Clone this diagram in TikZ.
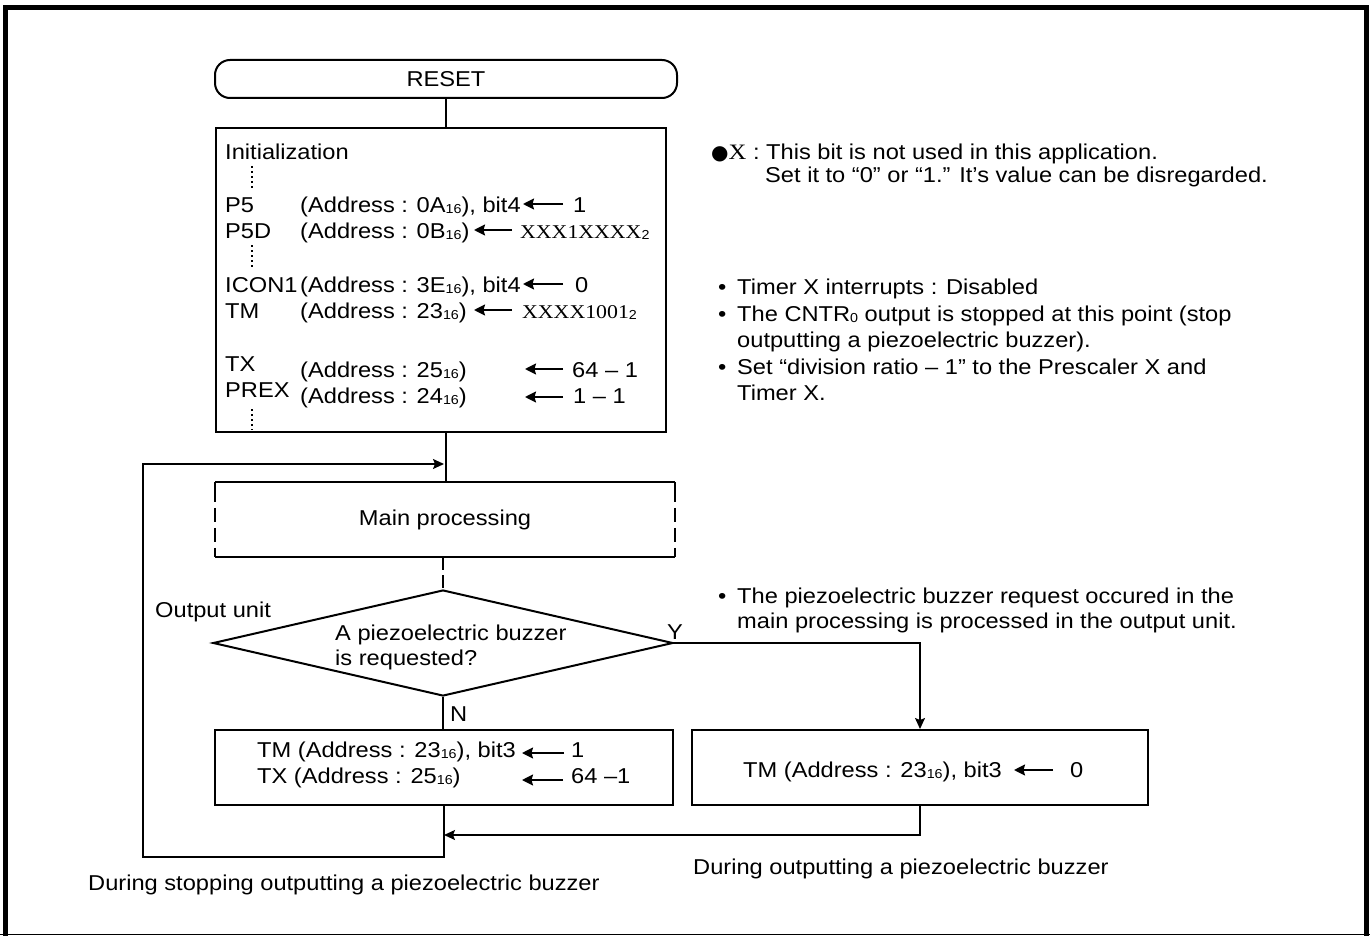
\documentclass[tikz,border=0pt]{standalone}
\usepackage{fontspec}
\setmainfont{Liberation Sans}[FakeStretch=1.1]
\newfontfamily\serifx{Liberation Serif}[FakeStretch=1.12]
\newfontfamily\symf{DejaVu Sans}
\usetikzlibrary{arrows.meta,shapes.geometric}
\newcommand{\hx}[1]{\raisebox{-1.5pt}{\fontsize{13}{13}\selectfont #1}}
\newcommand{\sx}[1]{{\serifx\fontsize{19.5}{19.5}\selectfont #1}}
\newcommand{\fs}{\fontsize{21.5}{26}\selectfont}
\begin{document}
\begin{tikzpicture}[x=1pt,y=-1pt,
  every node/.style={font=\fs},
  box/.style={draw,line width=2pt,inner sep=0pt},
  conn/.style={line width=1.4pt},
  arr/.style={conn,-{Stealth[length=11pt,width=10pt,inset=2pt]}},
  tarr/.style={line width=1.8pt,-{Stealth[length=11pt,width=11pt,inset=1.5pt]}},
  txt/.style={anchor=base west,inner sep=0pt},
  vdots/.style={line width=2.2pt,dash pattern=on 2pt off 3pt}]
\useasboundingbox (0,0) rectangle (1370,936);
% frame
\draw[line width=5pt] (5.5,936) -- (5.5,7.5) -- (1366.5,7.5) -- (1366.5,936);
\draw[line width=1.5pt] (0,934.5) -- (1370,934.5);

% RESET
\node[box,rounded corners=15pt,minimum width=462pt,minimum height=38pt] (reset) at (446,79) {RESET};
% Initialization box
\node[box,minimum width=450pt,minimum height=304pt] (init) at (441,280) {};
\draw[conn] (reset.south) -- (reset.south |- init.north);

\node[txt] (ini) at (225,160) {Initialization};
\draw[vdots] (252,166) -- (252,189);
\node[txt] (p5) at (225,212) {P5};
\node[txt] (p5a) at (300,212) {(Address : 0A\hx{16}), bit4};
\coordinate (p5s) at (563,204); \coordinate (p5e) at (523,204);
\draw[tarr] (p5s) -- (p5e);
\node[txt] (p5v) at (573,212) {1};
\node[txt] (p5d) at (225,238) {P5D};
\node[txt] (p5da) at (300,238) {(Address : 0B\hx{16})};
\coordinate (p5ds) at (512,230); \coordinate (p5de) at (474,230);
\draw[tarr] (p5ds) -- (p5de);
\node[txt] (p5dv) at (520,238) {\sx{XXX1XXXX}\hx{2}};
\draw[vdots] (252,245) -- (252,268);
\node[txt] (ic) at (225,292) {ICON1};
\node[txt] (ica) at (300,292) {(Address : 3E\hx{16}), bit4};
\coordinate (ics) at (563,284); \coordinate (ice) at (523,284);
\draw[tarr] (ics) -- (ice);
\node[txt] (icv) at (575,292) {0};
\node[txt] (tm) at (225,318) {TM};
\node[txt] (tma) at (300,318) {(Address : 23\hx{16})};
\coordinate (tms) at (512,310); \coordinate (tme) at (474,310);
\draw[tarr] (tms) -- (tme);
\node[txt] (tmv) at (522,318) {\sx{XXXX1001}\hx{2}};
\node[txt] (tx) at (225,371) {TX};
\node[txt] (txa) at (300,377) {(Address : 25\hx{16})};
\coordinate (txs) at (563,369); \coordinate (txe) at (525,369);
\draw[tarr] (txs) -- (txe);
\node[txt] (txv) at (572,377) {64 -- 1};
\node[txt] (px) at (225,397) {PREX};
\node[txt] (pxa) at (300,403) {(Address : 24\hx{16})};
\coordinate (pxs) at (563,397); \coordinate (pxe) at (525,397);
\draw[tarr] (pxs) -- (pxe);
\node[txt] (pxv) at (573,403) {1 -- 1};
\draw[vdots] (252,409) -- (252,430);

% right notes
\node[txt] (n1) at (711,160) {{\symf\fontsize{20}{20}\selectfont ●}{\serifx\fontsize{22}{22}\selectfont X} : This bit is not used in this application.};
\node[txt] (n2) at (765,183) {Set it to “0” or “1.” It’s value can be disregarded.};
\node[txt] (b1) at (718,294) {\makebox[19pt][l]{•}Timer X interrupts : Disabled};
\node[txt] (b2) at (718,321) {\makebox[19pt][l]{•}The CNTR\hx{0} output is stopped at this point (stop};
\node[txt] (b2b) at (737,347) {outputting a piezoelectric buzzer).};
\node[txt] (b3) at (718,374) {\makebox[19pt][l]{•}Set “division ratio -- 1” to the Prescaler X and};
\node[txt] (b3b) at (737,400) {Timer X.};
\node[txt] (b4) at (718,603) {\makebox[19pt][l]{•}The piezoelectric buzzer request occured in the};
\node[txt] (b4b) at (737,628) {main processing is processed in the output unit.};

% main processing
\node[minimum width=460pt,minimum height=75pt,inner sep=0pt] (main) at (445,519.5) {Main processing};
\draw[line width=2pt] (main.north west) -- (main.north east);
\draw[line width=2pt] (main.south west) -- (main.south east);
\draw[line width=2pt,dash pattern=on 20pt off 6pt on 14pt off 6pt on 14pt off 6pt on 40pt off 1pt] (main.north west) -- (main.south west);
\draw[line width=2pt,dash pattern=on 20pt off 6pt on 14pt off 6pt on 14pt off 6pt on 40pt off 1pt] (main.north east) -- (main.south east);
\draw[conn] (init.south -| reset.south) -- (main.north -| reset.south);
% loop
\coordinate (lp4) at (444,464);
\coordinate (lp2) at (143,857);

% diamond
\node[draw,line width=2pt,shape=diamond,inner sep=0pt,minimum width=460pt,minimum height=106pt] (dia) at (443,643) {};
\node[txt] (dq1) at (335,640) {A piezoelectric buzzer};
\node[txt] (dq2) at (335,665) {is requested?};
\draw[conn,dash pattern=on 13pt off 5pt] (main.south -| dia.north) -- (dia.north);
\node[txt] (ou) at (155,617) {Output unit};
\node[txt] (yl) at (667,639) {Y};
\node[txt] (nl) at (450,721) {N};

% bottom boxes
\node[box,minimum width=458pt,minimum height=75pt] (lbox) at (444,767.5) {};
\node[box,minimum width=456pt,minimum height=75pt] (rbox) at (920,767.5) {};
\draw[conn] (dia.south) -- (dia.south |- lbox.north);
\draw[arr] (dia.east) -- (dia.east -| rbox.north) -- (rbox.north);

\node[txt] (l1) at (257,757) {TM (Address : 23\hx{16}), bit3};
\coordinate (l1s) at (564,753); \coordinate (l1e) at (522,753);
\draw[tarr] (l1s) -- (l1e);
\node[txt] (l1v) at (571,757) {1};
\node[txt] (l2) at (257,783) {TX (Address : 25\hx{16})};
\coordinate (l2s) at (563,780); \coordinate (l2e) at (522,780);
\draw[tarr] (l2s) -- (l2e);
\node[txt] (l2v) at (571,783) {64 --1};

\node[txt] (r1) at (743,777) {TM (Address : 23\hx{16}), bit3};
\coordinate (r1s) at (1053,770); \coordinate (r1e) at (1014,770);
\draw[tarr] (r1s) -- (r1e);
\node[txt] (r1v) at (1070,777) {0};

% return connectors
\coordinate (rp) at (444,835);
\draw[arr] (rbox.south) |- (rp);
\draw[arr] (lbox.south) |- (lp2) |- (lp4);

\node[txt] (d1) at (88,890) {During stopping outputting a piezoelectric buzzer};
\node[txt] (d2) at (693,874) {During outputting a piezoelectric buzzer};
\end{tikzpicture}
\end{document}
